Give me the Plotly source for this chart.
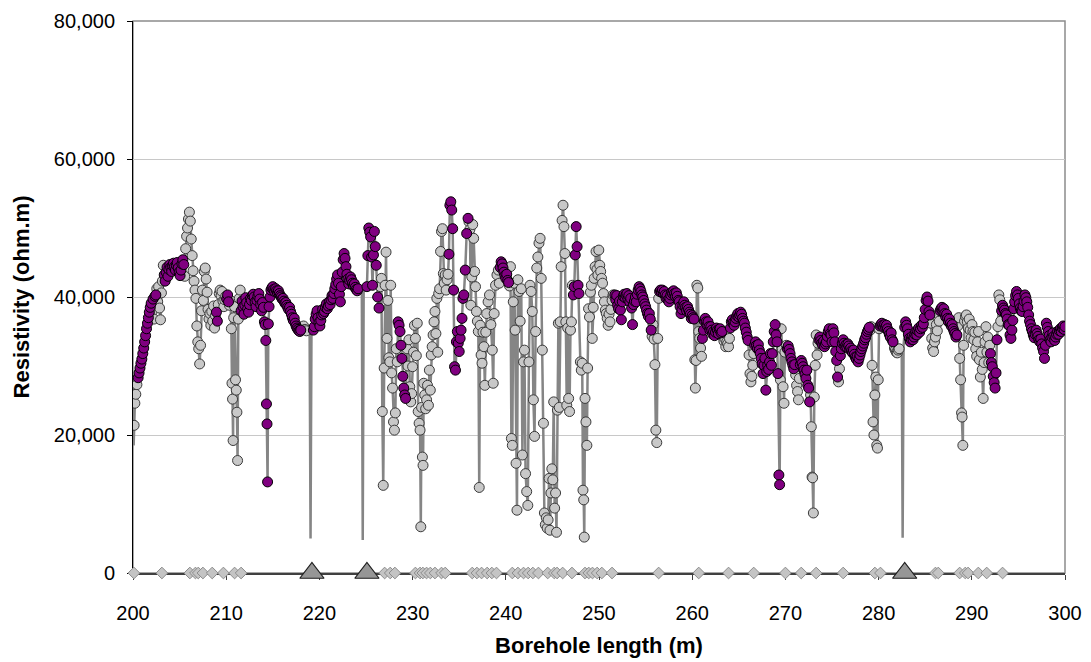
import plotly.graph_objects as go

# ---------------- data ----------------
X_TICKS = [200, 210, 220, 230, 240, 250, 260, 270, 280, 290, 300]
Y_TICKS = [0, 20000, 40000, 60000, 80000]
Y_TICK_TEXT = ["0", "20,000", "40,000", "60,000", "80,000"]

# line-only readings (no marker drawn)
GAP_X = [200.00, 200.03, 200.07, 218.95, 219.05, 219.15, 224.55, 224.65, 224.75,
         282.48, 282.58, 282.68, 300.30]
GAP_Y = [27000, 26000, 18500, 35000, 5000, 35100, 41000, 4800, 41000,
         32500, 5100, 33000, 35200]

# readings drawn with grey circles
GRAY_X = [
    200.12, 200.20, 200.30, 200.42,
    202.05, 202.25,
    202.55, 202.65, 202.75, 202.85, 202.95, 203.05, 203.15, 203.25,
    205.55, 205.65, 205.75, 205.85, 205.95, 206.05, 206.15, 206.25, 206.35, 206.45,
    206.55, 206.65, 206.75, 206.85, 206.95, 207.05, 207.15, 207.25, 207.35, 207.45,
    207.55, 207.65, 207.75, 207.85, 207.95, 208.05, 208.15, 208.25, 208.35, 208.45,
    208.55, 208.65, 208.75, 208.85,
    209.15, 209.25, 209.35, 209.45, 209.55, 209.65, 209.75, 209.85, 209.95,
    210.35, 210.45, 210.55, 210.62, 210.68, 210.74, 210.80, 210.90, 211.00, 211.08,
    211.15, 211.22, 211.30, 211.40, 211.50,
    218.15, 218.30, 218.45, 218.60,
    226.55, 226.65, 226.75, 226.85, 226.95, 227.05, 227.15, 227.25, 227.35, 227.45,
    227.55, 227.65, 227.75, 227.85, 227.95, 228.05, 228.15, 228.25, 228.35,
    229.40, 229.50, 229.60, 229.70, 229.80, 229.90, 230.00, 230.10, 230.20, 230.30,
    230.40, 230.50, 230.60, 230.70, 230.80, 230.88, 230.96, 231.05, 231.12, 231.20,
    231.30, 231.40, 231.50, 231.60, 231.70, 231.80, 231.90, 232.00, 232.10, 232.20,
    232.30, 232.40, 232.50, 232.60, 232.70, 232.80, 232.90, 233.00, 233.10, 233.20,
    233.30, 233.40, 233.50, 233.60, 233.70, 233.80,
    236.05, 236.15, 236.25, 236.35, 236.45, 236.55, 236.65, 236.75, 236.85, 236.95,
    237.05, 237.15, 237.25, 237.35, 237.45, 237.55, 237.65, 237.75, 237.85, 237.95,
    238.10, 238.25, 238.40, 238.55, 238.65, 238.75, 238.90, 239.05, 239.20, 239.30,
    240.40, 240.50, 240.60, 240.70, 240.80, 240.90, 241.00, 241.10, 241.20, 241.30,
    241.42, 241.54, 241.66, 241.78, 241.90, 242.00, 242.12, 242.24, 242.36, 242.48,
    242.60, 242.72, 242.84, 242.96, 243.08, 243.20, 243.32, 243.44, 243.56, 243.68,
    243.80, 243.92, 244.04, 244.14, 244.24, 244.34, 244.44, 244.54, 244.64, 244.74,
    244.84, 244.94, 245.04, 245.14, 245.24, 245.34, 245.44, 245.54, 245.64, 245.74,
    245.84, 245.94, 246.04, 246.14, 246.24, 246.34, 246.44, 246.54, 246.64, 246.74,
    246.84, 246.94, 247.04, 247.14,
    248.00, 248.10, 248.20, 248.28, 248.36, 248.42, 248.50, 248.60, 248.70, 248.78,
    248.88, 248.98, 249.08, 249.18, 249.28, 249.38, 249.48, 249.58, 249.68, 249.78,
    249.88, 249.98, 250.08, 250.18, 250.28, 250.38, 250.48, 250.58, 250.68, 250.78,
    250.88, 250.98, 251.08, 251.18, 251.28, 251.40, 251.52,
    255.70, 255.80, 255.90, 256.00, 256.10, 256.20, 256.30, 256.40,
    260.28, 260.34, 260.42, 260.50, 260.60, 260.70, 260.80, 260.90, 261.00,
    263.30, 263.40, 263.50, 263.60, 263.70, 263.80, 263.90, 264.00,
    266.10, 266.20, 266.30, 266.40, 266.50, 266.60,
    269.46, 269.55, 269.65, 269.75, 269.85, 269.95, 270.10,
    271.10, 271.20, 271.30, 271.40, 271.50,
    272.70, 272.78, 272.86, 272.92, 273.00, 273.10, 273.20, 273.30, 273.40, 273.50,
    275.70, 275.80,
    279.10, 279.20, 279.30, 279.40, 279.50, 279.60, 279.70, 279.80, 279.88, 279.96,
    280.05,
    281.70, 281.80, 281.90, 282.00, 282.10, 282.20,
    285.60, 285.70, 285.80, 285.90, 286.00, 286.10, 286.20, 286.30, 286.40, 286.50,
    288.50, 288.60, 288.70, 288.80, 288.90, 288.96, 289.04, 289.12, 289.22, 289.32,
    289.42, 289.52, 289.62, 289.72, 289.82, 289.92, 290.02, 290.12, 290.22, 290.32,
    290.42, 290.52, 290.62, 290.72, 290.82, 290.92, 291.02, 291.12, 291.22, 291.32,
    291.42, 291.52, 291.62, 291.72, 291.82, 291.92,
    292.80, 292.90, 293.00, 293.10,
]
GRAY_Y = [
    21400, 24600, 25900, 27300,
    37900, 36800,
    41200, 39300, 41500, 38400, 36700, 40600, 42300, 44600,
    43000, 47000, 48800, 50000, 51300, 52300, 51000, 48400, 46000, 43800,
    42300, 41000, 39800, 35800, 33500, 32500, 30300, 33000, 38000, 41000,
    39500, 43700, 44200, 42600, 40700, 38200, 36800, 37600, 35900, 37900,
    36500, 38700, 35500, 37300,
    38900, 40500, 41000, 40200, 40800, 39400, 38600, 39600, 40100,
    38800, 39500, 35400, 27500, 25200, 19200, 37000, 38600, 28000, 26500,
    23300, 16300, 36800, 39800, 41000,
    35500, 35800, 35300, 35100,
    41500, 42700, 23400, 12700, 29700, 41700, 46500, 34000, 39500, 31200,
    30600, 41700, 29000, 26800, 21900, 20700, 23200, 32500, 30600,
    32500, 30000, 33800, 27000, 24800, 26000, 29900, 32000, 35900, 34000,
    31500, 36200, 23400, 21700, 20700, 6700, 24000, 16800, 15600, 27500,
    25800, 23800, 25100, 27200, 24300, 29400, 26500, 31600, 32800, 34500,
    36400, 37900, 34700, 39800, 32000, 40500, 41200, 46600, 49500, 49900,
    43400, 42000, 43200, 41000, 42500, 43300,
    50900, 49800, 38800, 42900, 50500, 48500, 43700, 41500, 37900, 36500,
    35000, 12400, 35900, 31600, 30400, 34900, 32800, 27200, 34900, 37600,
    39300, 40300, 36000, 32300, 27500, 37600, 41700, 43200, 43900, 42000,
    41600, 44400, 19500, 18500, 39300, 42000, 35200, 15900, 9100, 42500,
    40800, 36500, 41200, 17100, 30600, 32300, 14400, 11800, 9800, 30600,
    41700, 40800, 37900, 25100, 19800, 35000, 44200, 45800, 47800, 48500,
    42700, 32300, 21700, 8700, 7000, 8000, 6500, 7700, 13700, 6200,
    11600, 15100, 13500, 24800, 9400, 11600, 5900, 23600, 36200, 24000,
    36400, 44400, 51100, 53300, 50200, 46300, 36400, 24300, 35500, 25300,
    23400, 35200, 36400, 41700,
    30600, 29400, 30400, 12000, 10600, 5200, 25300, 21900, 18500, 29700,
    38300, 37100, 40700, 41700, 34000, 38500, 42700, 44400, 46600, 44000,
    43200, 46800, 44600, 43700, 42700, 42000, 40500, 39300, 38100, 37600,
    36900, 35900, 37500, 36400, 38200, 39500, 40300,
    34300, 36000, 33900, 30200, 20700, 18900, 34000, 39800,
    30900, 26800, 30800, 41700, 41300, 35000, 34000, 32600, 31400,
    34200, 33600, 34000, 32800, 33500, 33200, 32800, 34000,
    31600, 28900, 27700, 28500, 30100, 31800,
    28000, 35400, 32500, 27000, 24600, 32000, 33000,
    28700, 27200, 26300, 25100, 28200,
    25800, 21200, 13900, 13800, 8700, 25500, 30100, 34500, 31600, 33300,
    27700, 29600,
    35200, 35700, 30100, 21900, 20000, 25800, 28400, 18500, 18100, 28000,
    35400,
    32600, 32300, 32000, 31900, 32300, 32500,
    36200, 34000, 32600, 32100, 33500, 34200, 36000, 35100, 37500, 36500,
    35800, 37000, 31100, 28000, 23200, 22600, 18500, 33000, 36500, 37200,
    37400, 36400, 35500, 36800, 35200, 34100, 36000, 35000, 33800, 34900,
    32500, 31400, 33500, 35000, 30900, 28400, 32000, 29500, 25300, 30500,
    33500, 35700, 32000, 34200, 30500, 33000,
    35700, 40300, 39600, 36500,
]

# readings drawn with purple circles
PURPLE_X = [
    200.55, 200.65, 200.75, 200.85, 200.95, 201.05, 201.15, 201.25, 201.35, 201.45,
    201.55, 201.65, 201.75, 201.85, 201.95,
    202.15, 202.35, 202.45,
    203.35, 203.45, 203.55, 203.65, 203.75, 203.85, 203.95, 204.05, 204.15, 204.25,
    204.35, 204.45, 204.55, 204.65, 204.75, 204.85, 204.95, 205.05, 205.15, 205.25,
    205.35, 205.45,
    208.95, 209.05,
    210.05, 210.15, 210.25,
    211.60, 211.70, 211.80, 211.90, 212.00, 212.10, 212.20, 212.30, 212.40, 212.50,
    212.60, 212.70, 212.80, 212.90, 213.00, 213.10, 213.20, 213.30, 213.40, 213.50,
    213.60, 213.70, 213.80, 213.90, 214.00, 214.10, 214.18, 214.25, 214.32, 214.38,
    214.44, 214.52, 214.60, 214.70, 214.80, 214.90, 215.00, 215.10, 215.20, 215.30,
    215.40, 215.50, 215.60, 215.70, 215.80, 215.90, 216.00, 216.10, 216.20, 216.30,
    216.40, 216.50, 216.60, 216.70, 216.80, 216.90, 217.00, 217.10, 217.20, 217.30,
    217.40, 217.50, 217.60, 217.70, 217.80, 217.90, 218.00,
    219.35, 219.45, 219.55, 219.65, 219.75, 219.85, 219.95, 220.05, 220.15, 220.25,
    220.35, 220.45, 220.55, 220.65, 220.75, 220.85, 220.95, 221.05, 221.15, 221.25,
    221.35, 221.45, 221.55, 221.65, 221.75, 221.85, 221.95, 222.05, 222.15, 222.25,
    222.35, 222.45, 222.55, 222.65, 222.75, 222.85, 222.95, 223.05, 223.15, 223.25,
    223.35, 223.45, 223.55, 223.65, 223.75, 223.85, 223.95, 224.05, 224.15,
    225.10, 225.20, 225.30, 225.40, 225.50, 225.60, 225.70, 225.80, 225.90, 226.00,
    226.10, 226.25, 226.40,
    228.45, 228.55, 228.65, 228.75, 228.85, 228.95, 229.05, 229.15, 229.25,
    233.90, 234.00, 234.10, 234.20, 234.30, 234.40, 234.50, 234.60, 234.70, 234.80,
    234.90, 235.00, 235.10, 235.20, 235.30, 235.40, 235.50, 235.65, 235.80, 235.95,
    239.40, 239.50, 239.60, 239.70, 239.80, 239.90, 240.00, 240.10, 240.20, 240.30,
    247.25, 247.35, 247.45, 247.55, 247.65, 247.75, 247.85,
    251.70, 251.80, 251.90, 252.00, 252.10, 252.20, 252.30, 252.40, 252.50, 252.60,
    252.70, 252.80, 252.90, 253.00, 253.10, 253.20, 253.30, 253.40, 253.50, 253.60,
    253.70, 253.80, 253.90, 254.00, 254.10, 254.20, 254.30, 254.40, 254.50, 254.60,
    254.70, 254.80, 254.90, 255.00, 255.10, 255.20, 255.30, 255.40, 255.50, 255.60,
    256.50, 256.60, 256.70, 256.80, 256.90, 257.00, 257.10, 257.20, 257.30, 257.40,
    257.50, 257.60, 257.70, 257.80, 257.90, 258.00, 258.10, 258.20, 258.30, 258.40,
    258.50, 258.60, 258.70, 258.80, 258.90, 259.00, 259.10, 259.20, 259.30, 259.40,
    259.50, 259.60, 259.70, 259.80, 259.90, 260.00, 260.10, 260.20,
    261.10, 261.20, 261.30, 261.40, 261.50, 261.60, 261.70, 261.80, 261.90, 262.00,
    262.10, 262.20, 262.30, 262.40, 262.50, 262.60, 262.70, 262.80, 262.90, 263.00,
    263.10, 263.20,
    264.10, 264.20, 264.30, 264.40, 264.50, 264.60, 264.70, 264.80, 264.90, 265.00,
    265.10, 265.20, 265.30, 265.40, 265.50, 265.60, 265.70, 265.80, 265.90, 266.00,
    266.70, 266.80, 266.90, 267.00, 267.10, 267.20, 267.30, 267.40, 267.50, 267.60,
    267.70, 267.80, 267.90, 268.00, 268.10, 268.20, 268.30, 268.40, 268.50, 268.60,
    268.70, 268.80, 268.90, 269.00, 269.10, 269.20, 269.30, 269.38,
    270.20, 270.30, 270.40, 270.50, 270.60, 270.70, 270.80, 270.90, 271.00,
    271.60, 271.70, 271.80, 271.90, 272.00, 272.10, 272.20, 272.30, 272.40, 272.50,
    272.60,
    273.60, 273.70, 273.80, 273.90, 274.00, 274.10, 274.20, 274.30, 274.40, 274.50,
    274.60, 274.70, 274.80, 274.90, 275.00, 275.10, 275.20, 275.30, 275.40, 275.50,
    275.60,
    275.90, 276.00, 276.10, 276.20, 276.30, 276.40, 276.50, 276.60, 276.70, 276.80,
    276.90, 277.00, 277.10, 277.20, 277.30, 277.40, 277.50, 277.60, 277.70, 277.80,
    277.90, 278.00, 278.10, 278.20, 278.30, 278.40, 278.50, 278.60, 278.70, 278.80,
    278.90, 279.00,
    280.15, 280.25, 280.35, 280.45, 280.55, 280.65, 280.75, 280.85, 280.95, 281.05,
    281.15, 281.25, 281.35, 281.45, 281.55,
    282.80, 282.90, 283.00, 283.10, 283.20, 283.30, 283.40, 283.50, 283.60, 283.70,
    283.80, 283.90, 284.00, 284.10, 284.20, 284.30, 284.40, 284.50, 284.60, 284.70,
    284.80, 284.90, 285.00, 285.10, 285.20, 285.30, 285.40, 285.50,
    286.60, 286.70, 286.80, 286.90, 287.00, 287.10, 287.20, 287.30, 287.40, 287.50,
    287.60, 287.70, 287.80, 287.90, 288.00, 288.10, 288.20, 288.30, 288.40,
    292.00, 292.10, 292.20, 292.30, 292.40, 292.50, 292.60, 292.70,
    293.20, 293.30, 293.40, 293.50, 293.60, 293.70, 293.80, 293.90, 294.00, 294.10,
    294.20, 294.30, 294.40, 294.50, 294.60, 294.70, 294.80, 294.90, 295.00, 295.10,
    295.20, 295.30, 295.40, 295.50, 295.60, 295.70, 295.80, 295.90, 296.00, 296.10,
    296.20, 296.30, 296.40, 296.50, 296.60, 296.70, 296.80, 296.90, 297.00, 297.10,
    297.20, 297.30, 297.40, 297.50, 297.60, 297.70, 297.80, 297.90, 298.00, 298.10,
    298.20, 298.30, 298.40, 298.50, 298.60, 298.70, 298.80, 298.90, 299.00, 299.10,
    299.20, 299.30, 299.40, 299.50, 299.60, 299.70, 299.80, 299.90, 300.00,
]
PURPLE_Y = [
    28300, 29000, 29700, 30400, 31000, 31800, 32600, 33500, 34400, 35400,
    36200, 37000, 37800, 38500, 39100,
    39700, 40100, 40300,
    43200, 42300, 43600, 44300, 43000, 44000, 44700, 44300, 43700, 44500,
    44900, 44400, 43900, 44600, 45000, 44200, 43600, 43100, 43900, 44800,
    45400, 44700,
    37800, 36500,
    39700, 40300, 39300,
    38000, 39400, 38600, 37500, 38800, 39900, 39200, 38300, 37800, 38900,
    39800, 39500, 40200, 40400, 40000, 39300, 38600, 39500, 40100, 40500,
    39700, 38900, 38000, 39200, 38500, 36400, 36000, 33700, 24500, 21600,
    13200, 36100, 38600, 40000, 41000, 41300, 41500, 41100, 40800, 41200,
    40900, 40600, 40900, 40500, 40200, 40000, 39700, 39800, 39400, 39100,
    39200, 38800, 38500, 38200, 38500, 37900, 37500, 37000, 36600, 36900,
    36200, 35800, 35500, 35300, 35100, 35000, 35200,
    35200, 35700, 36800, 37500, 38000, 37000, 36300, 35800, 36600, 37400,
    38200, 37600, 37900, 38500, 39000, 38300, 38700, 39300, 38900, 39600,
    40200, 39800, 40500, 41200, 41800, 42600, 43200, 42000, 40400, 39300,
    41500, 43600, 45400, 46300, 45600, 44400, 43300, 42600, 41900, 42400,
    42900, 42500, 42000, 41600, 41900, 41400, 41100, 40900, 41200,
    41500, 46000, 50000, 49400, 48700, 45800, 41700, 46100, 49500, 47300,
    44600, 40000, 38400,
    36400, 35900, 35000, 33000, 31100, 28500, 26800, 25800, 25300,
    46200, 53300, 53800, 52600, 49900, 41000, 29900, 29400, 33500, 35000,
    33300, 32100, 34000, 35200, 36900, 39800, 40300, 43900, 49200, 51400,
    44300, 45100, 44800, 44200, 43600, 43100, 42700, 43300, 42400, 42100,
    40300, 41500, 46100, 50200, 47300, 41700, 40500,
    40300, 39600, 40200, 38800, 38300, 39400, 38100, 36700, 39300, 40100,
    40400, 39900, 40300, 40500, 39700, 40200, 39300, 39800, 38400, 36000,
    38900, 39400, 40000, 39300, 40400, 41000, 41500, 41200, 40800, 40300,
    40000, 39500, 39000, 38600, 38100, 37600, 37200, 37600, 36800, 35200,
    40800, 41000, 40700, 41000, 40500, 40800, 40300, 39800, 40200, 39600,
    39300, 39800, 40300, 40700, 40500, 40900, 40500, 40100, 40600, 40100,
    39500, 39300, 38600, 37600, 38200, 38800, 39300, 38800, 38500, 38000,
    38600, 38200, 37800, 37500, 36900, 37300, 37000, 36800,
    34000, 35200, 36500, 36900, 36400, 35900, 36400, 35700, 35200, 35700,
    35200, 34600, 35000, 34400, 34900, 35500, 35200, 34700, 35300, 35400,
    34800, 35000,
    35500, 36400, 36700, 36300, 35900, 36400, 36900, 37300, 37600, 37100,
    37400, 37800, 37500, 36900, 36500, 36200, 35500, 34900, 34200, 33700,
    33000, 33500, 33000, 32500, 33100, 32300, 31800, 31100, 30300, 28900,
    30100, 31100, 26500, 29200, 30100, 29500, 30600, 31800, 30100, 31800,
    33500, 35000, 36000, 34500, 33500, 28900, 14200, 12800,
    32500, 32900, 32400, 31800, 31100, 30600, 30100, 29600, 30200,
    30200, 30800, 30400, 29900, 29400, 28800, 28200, 29400, 27200, 26800,
    24800,
    33800, 34200, 33700, 33300, 33000, 33600, 32800, 33200, 33500, 34300,
    35000, 35400, 34700, 34500, 33500, 35400, 34800, 33500, 32100, 30800,
    28400,
    31500, 32500, 33300, 33800, 33300, 32800, 33100, 32700, 33200, 32900,
    32400, 32600, 32200, 31900, 32300, 31700, 31300, 31000, 31400, 30600,
    31100, 31600, 32100, 32500, 32900, 33300, 33800, 34100, 34600, 35000,
    35300, 35600,
    35800, 36000, 36200, 35900, 35600, 36000, 35600, 35900, 35400, 35000,
    34600, 34200, 34800, 33800, 33500,
    35600, 36400, 35900, 35400, 34600, 34000, 33500, 33900, 34300, 33800,
    34200, 34600, 35000, 34500, 35100, 35500, 34900, 35400, 35900, 35600,
    36100, 37000, 38200, 39500, 40000, 39400, 37900, 37400,
    38000, 38300, 38500, 37900, 38300, 37600, 37100, 37500, 36900, 36400,
    36800, 36200, 35800, 36000, 35400, 35000, 34700, 34200, 34500,
    31800, 30500, 29900, 28500, 27600, 26800, 29000, 33800,
    38000, 38800, 38400, 38100, 37600, 37400, 36800, 36000, 35900, 34500,
    34000, 35200, 36600, 38300, 39300, 40200, 40800, 40300, 39800, 39000,
    38400, 38000, 37900, 38600, 39400, 40300, 39900, 39300, 38500, 37400,
    36500, 36000, 35400, 35000, 34500, 34100, 34600, 35200, 34700, 34300,
    33800, 33500, 33900, 33200, 32600, 32100, 31100, 33000, 36200, 35600,
    35000, 34400, 33800, 33500, 34200, 34800, 34300, 33700, 34200, 34600,
    35000, 34600, 35100, 35400, 35000, 35500, 35800, 35300, 35700,
]

# events on the zero line
DIAMOND_X = [200.1, 203.1, 206.1, 206.7, 207.0, 207.5, 208.5, 209.7, 210.9, 211.6,
             227.0, 227.6, 228.1, 230.3, 230.8, 231.1, 231.5, 231.9, 232.4, 233.1,
             233.5, 236.4, 236.9, 237.4, 238.0, 238.5, 239.0, 240.7, 241.3, 241.9,
             242.4, 242.9, 243.5, 244.5, 245.2, 245.5, 246.1, 247.1, 248.5, 248.9,
             249.3, 249.8, 250.3, 251.4, 256.4, 260.7, 263.9, 266.6, 270.0, 271.7,
             273.3, 276.2, 279.6, 280.2, 286.1, 286.4, 288.7, 289.3, 289.6, 290.7,
             291.6, 293.3]
DIAMOND_Y = [0, 0, 0, 0, 0, 0, 0, 0, 0, 0,
             0, 0, 0, 0, 0, 0, 0, 0, 0, 0,
             0, 0, 0, 0, 0, 0, 0, 0, 0, 0,
             0, 0, 0, 0, 0, 0, 0, 0, 0, 0,
             0, 0, 0, 0, 0, 0, 0, 0, 0, 0,
             0, 0, 0, 0, 0, 0, 0, 0, 0, 0,
             0, 0]
TRIANGLE_X = [219.2, 225.1, 282.8]
TRIANGLE_Y = [0, 0, 0]

assert len(GRAY_X) == len(GRAY_Y), (len(GRAY_X), len(GRAY_Y))
assert len(PURPLE_X) == len(PURPLE_Y), (len(PURPLE_X), len(PURPLE_Y))
assert len(GAP_X) == len(GAP_Y)
assert len(DIAMOND_X) == len(DIAMOND_Y)

# the continuous log line runs through every reading in depth order
pts = sorted(zip(GAP_X + GRAY_X + PURPLE_X, GAP_Y + GRAY_Y + PURPLE_Y))
LINE_X = [p[0] for p in pts]
LINE_Y = [p[1] for p in pts]

FONT = "Liberation Sans, Arial, Helvetica, sans-serif"

fig = go.Figure()
fig.add_trace(go.Scatter(x=LINE_X, y=LINE_Y, mode="lines",
                         line=dict(color="#858585", width=2.5),
                         hoverinfo="skip", showlegend=False))
fig.add_trace(go.Scatter(x=GRAY_X, y=GRAY_Y, mode="markers",
                         marker=dict(size=10, color="#c8c8c8",
                                     line=dict(color="#3a3a3a", width=1)),
                         showlegend=False))
fig.add_trace(go.Scatter(x=PURPLE_X, y=PURPLE_Y, mode="markers",
                         marker=dict(size=10, color="#800080",
                                     line=dict(color="#000000", width=1)),
                         showlegend=False))
fig.add_trace(go.Scatter(x=DIAMOND_X, y=DIAMOND_Y, mode="markers", cliponaxis=False,
                         marker=dict(symbol="diamond", size=9, color="#c4c4c4",
                                     line=dict(color="#8c8c8c", width=1)),
                         showlegend=False))
fig.add_trace(go.Scatter(x=TRIANGLE_X, y=TRIANGLE_Y, mode="markers", cliponaxis=False,
                         marker=dict(symbol="triangle-up", size=21, color="#969696",
                                     line=dict(color="#1e1e1e", width=1.2)),
                         showlegend=False))

fig.update_layout(
    width=1091, height=662,
    margin=dict(l=133, r=26, t=21, b=89),
    paper_bgcolor="white", plot_bgcolor="white",
    showlegend=False,
    font=dict(family=FONT, color="#000000"),
    shapes=[dict(type="rect", xref="paper", yref="paper", x0=0, x1=1, y0=0, y1=1,
                 line=dict(color="#8c8c8c", width=1.5), layer="below")],
)
fig.update_xaxes(
    range=[200, 300], tickmode="array", tickvals=X_TICKS, automargin=False,
    ticks="outside", ticklen=5, tickcolor="#404040", tickwidth=1,
    showline=True, linecolor="#404040", linewidth=1.5,
    showgrid=False, zeroline=False, layer="below traces",
    tickfont=dict(size=20, family=FONT), ticklabelstandoff=16,
    title=dict(text="<b>Borehole length (m)</b>", font=dict(size=22, family=FONT), standoff=15),
)
fig.update_yaxes(
    range=[0, 80000], tickmode="array", tickvals=Y_TICKS, ticktext=Y_TICK_TEXT,
    automargin=False,
    ticks="outside", ticklen=5, tickcolor="#000000", tickwidth=1,
    showline=True, linecolor="#000000", linewidth=1,
    showgrid=True, gridcolor="#c8c8c8", gridwidth=1, zeroline=False,
    layer="below traces",
    tickfont=dict(size=20, family=FONT), ticklabelstandoff=8,
    title=dict(text="<b>Resistivity (ohm.m)</b>", font=dict(size=22, family=FONT), standoff=18),
)

fig.write_html("out.html")
